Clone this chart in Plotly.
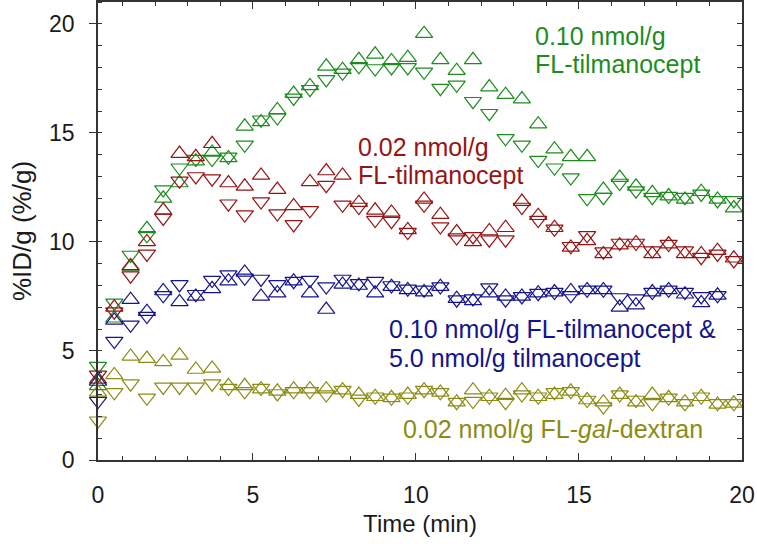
import plotly.graph_objects as go

# ---------------- data ----------------
TIME = [0.25, 0.75, 1.25, 1.75, 2.25, 2.75, 3.25, 3.75, 4.25, 4.75,
        5.25, 5.75, 6.25, 6.75, 7.25, 7.75, 8.25, 8.75, 9.25, 9.75,
        10.25, 10.75, 11.25, 11.75, 12.25, 12.75, 13.25, 13.75, 14.25, 14.75,
        15.25, 15.75, 16.25, 16.75, 17.25, 17.75, 18.25, 18.75, 19.25, 19.75]

GREEN_UP = [3.4, 6.5, 8.85, 10.6, 12.0, 12.7, 13.7, 14.1, 13.85, 15.3,
            15.5, 16.05, 16.8, 17.15, 18.05, 17.9, 18.35, 18.6, 18.3, 18.45,
            19.55, 18.35, 17.85, 18.35, 17.1, 16.75, 16.55, 15.4, 14.25, 13.9,
            13.9, 12.4, 12.95, 12.55, 12.25, 12.1, 11.95, 12.3, 11.95, 11.55]
GREEN_DOWN = [4.3, 7.2, 9.4, 10.3, 12.4, 13.4, 13.8, 13.8, 13.9, 14.45,
              15.6, 15.7, 16.6, 17.0, 17.45, 17.75, 18.05, 17.95, 18.0, 18.0,
              17.8, 17.05, 17.2, 16.45, 15.9, 14.75, 14.45, 13.75, 13.4, 12.95,
              12.0, 12.05, 12.7, 12.35, 12.05, 12.1, 12.05, 12.2, 11.9, 11.9]

RED_UP = [3.7, 7.0, 8.9, 10.0, 11.45, 14.05, 13.9, 14.5, 12.7, 12.55,
          13.05, 12.4, 11.65, 12.75, 13.25, 13.05, 11.8, 11.45, 11.35, 10.55,
          11.95, 11.25, 10.45, 10.0, 10.5, 10.65, 11.85, 11.2, 10.65, 9.75,
          10.05, 9.45, 9.85, 9.95, 9.45, 9.9, 9.45, 9.45, 9.6, 9.25]
RED_DOWN = [3.9, 6.8, 8.45, 9.45, 11.1, 12.8, 13.0, 12.9, 11.75, 11.25,
            11.85, 11.3, 10.8, 11.45, 12.6, 11.7, 11.6, 11.0, 10.95, 10.45,
            11.7, 10.7, 10.2, 10.25, 10.1, 10.1, 11.6, 11.0, 10.6, 9.8,
            10.3, 9.55, 9.95, 9.95, 9.6, 9.9, 9.6, 9.3, 9.45, 9.15]

BLUE_UP = [3.6, 6.4, 7.35, 6.8, 7.75, 7.25, 7.5, 7.85, 8.2, 8.6,
           7.5, 7.65, 8.2, 7.65, 6.9, 8.05, 8.0, 7.65, 7.95, 7.8,
           7.7, 7.95, 7.4, 7.3, 7.65, 7.5, 7.5, 7.65, 7.7, 7.75,
           7.8, 7.8, 7.0, 7.1, 7.7, 7.8, 7.6, 7.2, 7.55]
BLUE_DOWN = [2.7, 5.45, 6.2, 6.6, 7.55, 8.05, 7.6, 8.25, 8.5, 8.35,
             8.3, 8.05, 8.2, 8.25, 7.95, 8.3, 8.1, 8.2, 8.0, 7.85,
             7.8, 7.95, 7.35, 7.4, 7.9, 7.35, 7.5, 7.65, 7.7, 7.55,
             7.8, 7.8, 7.45, 7.4, 7.7, 7.8, 7.7, 7.5, 7.55]

OLIVE_UP = [3.1, 3.9, 4.75, 4.65, 4.5, 4.8, 4.15, 4.2, 3.4, 3.4,
            3.25, 3.15, 3.25, 3.25, 3.25, 3.2, 3.0, 2.9, 2.85, 3.0,
            3.2, 3.1, 2.65, 3.2, 2.9, 2.95, 3.2, 2.9, 3.0, 3.15,
            2.75, 2.65, 3.0, 2.65, 3.0, 2.85, 2.65, 2.9, 2.55, 2.6]
OLIVE_DOWN = [1.8, 3.1, 3.5, 2.85, 3.35, 3.35, 3.35, 3.5, 3.3, 3.15,
              3.3, 3.05, 3.15, 3.15, 3.0, 3.2, 2.8, 2.9, 2.85, 2.9,
              3.2, 3.1, 2.65, 2.7, 2.9, 2.65, 3.0, 2.9, 3.1, 3.15,
              2.75, 2.45, 3.0, 2.75, 2.6, 2.85, 2.6, 2.9, 2.6, 2.6]

X_TICK_LABELS = ["0", "5", "10", "15", "20"]
X_TICK_VALUES = [0, 5, 10, 15, 20]
Y_TICK_VALUES = [0, 5, 10, 15, 20]

GREEN = "#1e8c1e"
RED = "#961414"
BLUE = "#14148c"
OLIVE = "#8c8c14"

LABELS = [
    ("0.10 nmol/g", GREEN), ("FL-tilmanocept", GREEN),
    ("0.02 nmol/g", RED), ("FL-tilmanocept", RED),
    ("0.10 nmol/g FL-tilmanocept &", BLUE), ("5.0 nmol/g tilmanocept", BLUE),
    ("0.02 nmol/g FL-<i>gal</i>-dextran", OLIVE),
]
# pixel placement of each label line (left edge, vertical middle of capitals)
LABEL_POS = [(533, 36), (533, 64), (356, 147), (356, 175), (387, 329), (387, 358), (401, 429)]

# ---------------- figure ----------------
X_MIN, X_MAX = 0.25, 20.0
Y_MIN, Y_MAX = 0.0, 21.0
FONT = "Arial, 'Liberation Sans', sans-serif"
W, H = 757, 544
ML, MR, MT, MB = 98, 15, 2, 84

fig = go.Figure()
series = [
    (GREEN_UP, GREEN_DOWN, GREEN),
    (RED_UP, RED_DOWN, RED),
    (BLUE_UP, BLUE_DOWN, BLUE),
    (OLIVE_UP, OLIVE_DOWN, OLIVE),
]
for up, down, col in series:
    for vals, sym in ((up, "triangle-up-open"), (down, "triangle-down-open")):
        fig.add_trace(go.Scatter(
            x=TIME[:len(vals)], y=vals, mode="markers", showlegend=False,
            cliponaxis=False,
            marker=dict(symbol=sym, size=15, color=col, line=dict(width=1.2, color=col)),
        ))

pw = W - ML - MR
ph = H - MT - MB
for (txt, col), (px, py) in zip(LABELS, LABEL_POS):
    fig.add_annotation(
        text=txt, xref="paper", yref="paper",
        x=(px - ML) / pw, y=(H - MB - py) / ph,
        xanchor="left", yanchor="middle", showarrow=False,
        font=dict(family=FONT, size=25, color=col),
    )

xtickvals = [max(v, X_MIN) for v in X_TICK_VALUES]

fig.update_layout(
    width=W, height=H,
    margin=dict(l=ML, r=MR, t=MT, b=MB, autoexpand=False),
    plot_bgcolor="white", paper_bgcolor="white",
    font=dict(family=FONT, size=23, color="#1a1a1a"),
    hovermode=False,
    xaxis=dict(
        automargin=False,
        range=[X_MIN, X_MAX], tickmode="array", tickvals=xtickvals, ticktext=X_TICK_LABELS,
        ticks="inside", ticklen=7, tickwidth=1.3, tickcolor="#333",
        showline=True, linecolor="#333", linewidth=1.5, mirror="ticks",
        showgrid=False, zeroline=False, ticklabelstandoff=14,
        minor=dict(tickmode="linear", tick0=0, dtick=1, ticks="inside", ticklen=4,
                   tickwidth=1.2, tickcolor="#333", showgrid=False),
        title=dict(text="Time (min)", font=dict(size=24), standoff=8),
    ),
    yaxis=dict(
        automargin=False,
        range=[Y_MIN, Y_MAX], tickmode="array", tickvals=Y_TICK_VALUES,
        ticks="outside", ticklen=7, tickwidth=1.3, tickcolor="#333",
        showline=True, linecolor="#333", linewidth=1.5, mirror=True,
        showgrid=False, zeroline=False, ticklabelstandoff=10,
        minor=dict(tickmode="linear", tick0=0, dtick=1, ticks="inside", ticklen=4,
                   tickwidth=1.2, tickcolor="#333", showgrid=False),
        title=dict(text="%ID/g (%/g)", font=dict(size=26), standoff=10),
    ),
    yaxis2=dict(
        automargin=False,
        overlaying="y", side="right", matches="y", range=[Y_MIN, Y_MAX],
        tickmode="linear", tick0=0, dtick=1, ticks="inside", ticklen=5,
        tickwidth=1.2, tickcolor="#333", showticklabels=False, showgrid=False,
        zeroline=False, showline=False,
    ),
)
fig.add_trace(go.Scatter(x=[None], y=[None], yaxis="y2", showlegend=False, hoverinfo="skip"))

fig.write_html("out.html", config={"displayModeBar": False},
               post_script="document.body.style.margin='0';")
